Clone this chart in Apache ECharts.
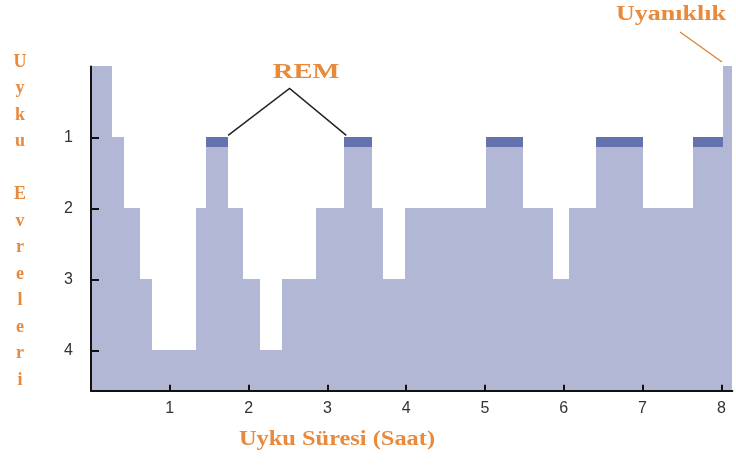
<!DOCTYPE html>
<html><head><meta charset="utf-8">
<script src="https://cdn.jsdelivr.net/npm/echarts@6/dist/echarts.min.js"></script>
<style>html,body{margin:0;padding:0;background:#fff}#c{width:736px;height:466px}</style>
</head><body><div id="c"></div>
<script>
// Hypnogram: start hour of each step and the sleep stage held from there
const stageStart = [0, 0.27, 0.42, 0.62, 0.78, 1.33, 1.46, 1.74, 1.93, 2.14, 2.42, 2.86, 3.21, 3.57, 3.71, 3.99, 5.01, 5.48, 5.86, 6.07, 6.41, 7.0, 7.64, 8.02];
const stageLevel = [0, 1, 2, 3, 4, 2, 1, 2, 3, 4, 3, 2, 1, 2, 3, 2, 1, 2, 3, 2, 1, 2, 1, 0];
const sleepEnd = 8.14;
// REM periods (dark bands on stage 1)
const remStart = [1.46, 3.21, 5.01, 6.41, 7.64];
const remEnd = [1.74, 3.57, 5.48, 7.0, 8.02];
const remBand = 0.13;
// tick labels
const xTickLabels = ['1', '2', '3', '4', '5', '6', '7', '8'];
const yTickLabels = ['1', '2', '3', '4'];
const yMax = 4.57;

const fill = '#b3b7d6';
const remColor = '#6473ad';
const orange = '#e8893c';
const serif = '"Liberation Serif", "DejaVu Serif", serif';

const stepData = stageStart.map((s, i) => [s, i + 1 < stageStart.length ? stageStart[i + 1] : sleepEnd, stageLevel[i]]);
const remData = remStart.map((s, i) => [s, remEnd[i], 1]);

const R = Math.round;
const chart = echarts.init(document.getElementById('c'), null, {renderer: 'canvas'});
chart.setOption({
  animation: false,
  backgroundColor: '#fff',
  grid: {left: 91, top: 66.4, width: 641.4, height: 324.3, containLabel: false},
  xAxis: {
    type: 'value', min: 0, max: sleepEnd, interval: 1, z: 10,
    axisLine: {onZero: false, lineStyle: {color: '#111', width: 2}},
    axisTick: {inside: true, length: 6, lineStyle: {color: '#111', width: 2}},
    splitLine: {show: false},
    axisLabel: {
      margin: 10, color: '#333', fontSize: 16, fontFamily: '"Liberation Sans", Arial, sans-serif',
      showMinLabel: false, showMaxLabel: false,
      formatter: v => xTickLabels.includes(String(v)) ? String(v) : ''
    }
  },
  yAxis: {
    type: 'value', inverse: true, min: 0, max: yMax, interval: 1, z: 10,
    axisLine: {show: true, onZero: false, lineStyle: {color: '#111', width: 2}},
    axisTick: {show: true, inside: true, length: 8, lineStyle: {color: '#111', width: 2}},
    splitLine: {show: false},
    axisLabel: {
      margin: 18, color: '#333', fontSize: 16, fontFamily: '"Liberation Sans", Arial, sans-serif',
      showMinLabel: false, showMaxLabel: false,
      formatter: v => yTickLabels.includes(String(v)) ? String(v) : ''
    }
  },
  series: [
    {
      type: 'custom', coordinateSystem: 'cartesian2d', data: stepData, z: 2, silent: true,
      encode: {x: [0, 1], y: 2},
      renderItem: (params, api) => {
        const p0 = api.coord([api.value(0), api.value(2)]);
        const p1 = api.coord([api.value(1), yMax]);
        const x0 = R(p0[0]), x1 = R(p1[0]), y0 = R(p0[1]), y1 = R(p1[1]);
        return {type: 'rect', shape: {x: x0, y: y0, width: x1 - x0, height: y1 - y0}, style: {fill: fill, stroke: null, lineWidth: 0}};
      }
    },
    {
      type: 'custom', coordinateSystem: 'cartesian2d', data: remData, z: 3, silent: true,
      encode: {x: [0, 1], y: 2},
      renderItem: (params, api) => {
        const p0 = api.coord([api.value(0), api.value(2)]);
        const p1 = api.coord([api.value(1), api.value(2) + remBand]);
        const x0 = R(p0[0]), x1 = R(p1[0]), y0 = R(p0[1]), y1 = R(p1[1]);
        return {type: 'rect', shape: {x: x0, y: y0, width: x1 - x0, height: y1 - y0}, style: {fill: remColor, stroke: null, lineWidth: 0}};
      }
    }
  ]
});

const toPx = p => chart.convertToPixel({gridIndex: 0}, p);
const apex = toPx([2.52, 0.31]);
const remL = toPx([remEnd[0], 1]);
const remR = toPx([remStart[1] + 0.03, 1]);
const remLabel = toPx([2.73, 0.08]);

chart.setOption({
  graphic: [
    {type: 'polyline', z: 20, shape: {points: [[remL[0], remL[1] - 2], apex, [remR[0], remR[1] - 2]]}, style: {stroke: '#222', lineWidth: 1.5, fill: null}},
    {type: 'text', z: 20, x: remLabel[0], y: remLabel[1], scaleX: 1.3, style: {text: 'REM', fill: orange, font: 'bold 22px ' + serif, textAlign: 'center', textVerticalAlign: 'middle'}},
    {type: 'text', z: 20, x: 671, y: 15, scaleX: 1.3, style: {text: 'Uyanıklık', fill: orange, font: 'bold 20px ' + serif, textAlign: 'center', textVerticalAlign: 'middle'}},
    {type: 'line', z: 20, shape: {x1: 680, y1: 32, x2: 722, y2: 62}, style: {stroke: '#d98a3a', lineWidth: 1.5}},
    {type: 'text', z: 20, x: 337, y: 440, scaleX: 1.22, style: {text: 'Uyku Süresi (Saat)', fill: orange, font: 'bold 20px ' + serif, textAlign: 'center', textVerticalAlign: 'middle'}},
    {type: 'text', z: 20, x: 20, y: 49, style: {text: 'U\ny\nk\nu\n\nE\nv\nr\ne\nl\ne\nr\ni', fill: orange, font: 'bold 18px ' + serif, lineHeight: 26.5, textAlign: 'center', textVerticalAlign: 'top'}}
  ]
});
</script>
</body></html>
